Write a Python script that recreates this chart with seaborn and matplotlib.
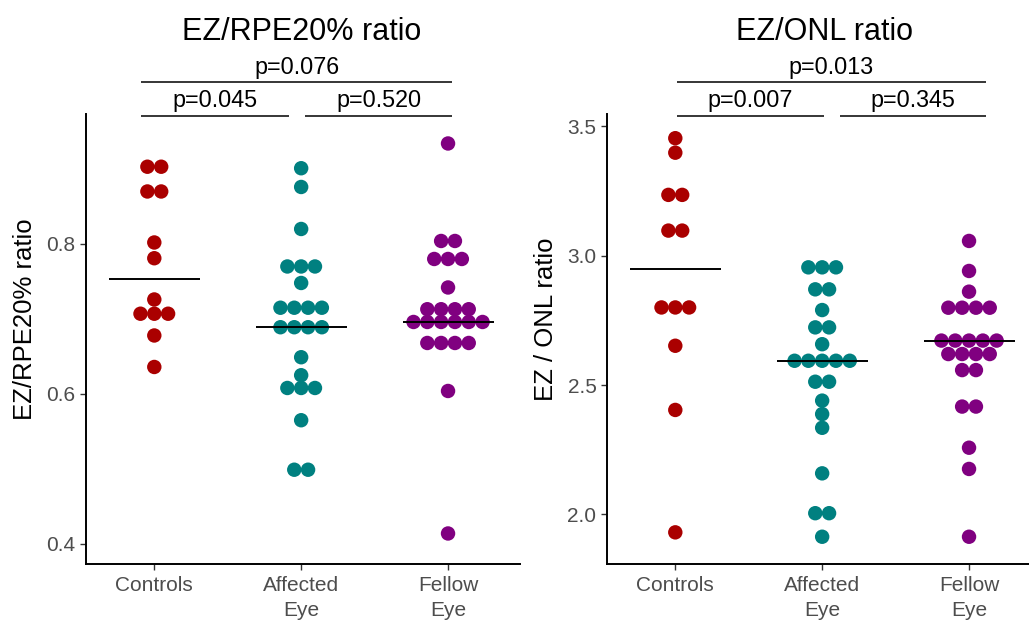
import numpy as np
import pandas as pd
import matplotlib
matplotlib.use("Agg")
import matplotlib.pyplot as plt
import matplotlib.transforms as mtransforms
import seaborn as sns

# ---- data -------------------------------------------------------------
groups = ["Controls", "Affected\nEye", "Fellow\nEye"]
group_colors = ["#AA0000", "#008080", "#800080"]

ez_rpe_controls = [0.903, 0.903, 0.870, 0.870, 0.802, 0.781, 0.726,
                   0.707, 0.707, 0.707, 0.678, 0.636]
ez_rpe_affected = [0.901, 0.876, 0.820, 0.770, 0.770, 0.770, 0.748,
                   0.715, 0.715, 0.715, 0.715, 0.689, 0.689, 0.689, 0.689,
                   0.649, 0.625, 0.608, 0.608, 0.608, 0.565, 0.499, 0.499]
ez_rpe_fellow = [0.934, 0.804, 0.804, 0.780, 0.780, 0.780, 0.742,
                 0.713, 0.713, 0.713, 0.713,
                 0.696, 0.696, 0.696, 0.696, 0.696, 0.696,
                 0.668, 0.668, 0.668, 0.668, 0.604, 0.414]

ez_onl_controls = [3.454, 3.398, 3.235, 3.235, 3.097, 3.097,
                   2.800, 2.800, 2.800, 2.652, 2.404, 1.931]
ez_onl_affected = [2.955, 2.955, 2.955, 2.870, 2.870, 2.790, 2.723, 2.723,
                   2.658, 2.594, 2.594, 2.594, 2.594, 2.594, 2.513, 2.513,
                   2.440, 2.388, 2.335, 2.159, 2.005, 2.005, 1.914]
ez_onl_fellow = [3.057, 2.941, 2.861, 2.799, 2.799, 2.799, 2.799,
                 2.672, 2.672, 2.672, 2.672, 2.672,
                 2.620, 2.620, 2.620, 2.620, 2.558, 2.558,
                 2.417, 2.417, 2.258, 2.176, 1.914]

rpe_pvalues = ["p=0.045", "p=0.520", "p=0.076"]
onl_pvalues = ["p=0.007", "p=0.345", "p=0.013"]

rpe_title = "EZ/RPE20% ratio"
rpe_ylabel = "EZ/RPE20% ratio"
onl_title = "EZ/ONL ratio"
onl_ylabel = "EZ / ONL ratio"

rpe_yticks = [0.4, 0.6, 0.8]
onl_yticks = [2.0, 2.5, 3.0, 3.5]

# ---- style ------------------------------------------------------------
sns.set_style("ticks")
plt.rcParams["font.family"] = ["Liberation Sans", "DejaVu Sans"]

W, H = 1029, 621
fig = plt.figure(figsize=(W / 100, H / 100), dpi=100)

TICK_GREY = "#4D4D4D"
DOT_STEP = 0.094      # horizontal distance between stacked dots (x units)
DOT_SIZE = 108        # marker area, pt^2


def dot_layout(values, xpos):
    """Centre equal values side by side in a row, like a centred dot plot."""
    vals = np.asarray(values, dtype=float)
    xs = np.empty_like(vals)
    for v in np.unique(vals):
        idx = np.where(vals == v)[0]
        n = len(idx)
        xs[idx] = xpos + (np.arange(n) - (n - 1) / 2) * DOT_STEP
    return xs


def make_frame(series):
    rows = []
    for i, (g, vals) in enumerate(zip(groups, series)):
        xs = dot_layout(vals, i)
        for x, v in zip(xs, vals):
            rows.append({"group": g, "x": x, "value": v})
    return pd.DataFrame(rows)


def draw_panel(ax, series, title, ylabel, yticks, ylim, pvals, spans,
               title_x):
    df = make_frame(series)
    sns.scatterplot(data=df, x="x", y="value", hue="group",
                    hue_order=groups, palette=group_colors, s=DOT_SIZE,
                    linewidth=0, alpha=1, legend=False, ax=ax, zorder=3)
    meds = [np.median(v) for v in series]
    ax.hlines(meds, np.arange(3) - 0.31, np.arange(3) + 0.31,
              colors="black", linewidth=1.4, zorder=4)

    ax.set_xlim(-0.465, 2.49)
    ax.set_ylim(*ylim)
    ax.set_xticks(range(3))
    ax.set_xticklabels(groups, linespacing=1.4)
    ax.set_yticks(yticks)
    ax.set_yticklabels([f"{t:.1f}" for t in yticks])
    ax.set_xlabel("")
    ax.set_ylabel(ylabel, fontsize=18.5, color="black")
    ax.yaxis.set_label_coords(-0.113, 0.544)

    for s in ("top", "right"):
        ax.spines[s].set_visible(False)
    for s in ("left", "bottom"):
        ax.spines[s].set_linewidth(1.4)
        ax.spines[s].set_color("black")
    ax.tick_params(axis="both", length=4.3, width=1.0, color="#333333",
                   labelsize=15, labelcolor=TICK_GREY, pad=3.3)
    ax.tick_params(axis="x", pad=4.3)
    ax.grid(False)

    # title
    ax.text(title_x, (564 - 40) / 450, title, transform=ax.transAxes,
            ha="center", va="baseline", fontsize=22, color="black")

    # comparison brackets above the panel
    trans = mtransforms.blended_transform_factory(ax.transData, ax.transAxes)
    levels = [((564 - 115.7) / 450, (564 - 107.3) / 450),
              ((564 - 115.7) / 450, (564 - 107.3) / 450),
              ((564 - 82.3) / 450, (564 - 74.0) / 450)]
    for (x0, x1), p, (ly, ty) in zip(spans, pvals, levels):
        ax.plot([x0, x1], [ly, ly], transform=trans, color="black",
                linewidth=1.1, clip_on=False, solid_capstyle="butt")
        ax.text((x0 + x1) / 2, ty, p, transform=trans, ha="center",
                va="baseline", fontsize=16.8, color="black")


ax1 = fig.add_axes([86 / W, 1 - 564 / H, 434 / W, 450 / H])
ax2 = fig.add_axes([607 / W, 1 - 564 / H, 434 / W, 450 / H])

draw_panel(ax1, [ez_rpe_controls, ez_rpe_affected, ez_rpe_fellow],
           rpe_title, rpe_ylabel, rpe_yticks, (0.3733, 0.9733), rpe_pvalues,
           [(-0.088, 0.914), (1.027, 2.029), (-0.088, 2.029)], 0.4965)
draw_panel(ax2, [ez_onl_controls, ez_onl_affected, ez_onl_fellow],
           onl_title, onl_ylabel, onl_yticks, (1.8087, 3.5475), onl_pvalues,
           [(0.009, 1.01), (1.12, 2.114), (0.009, 2.114)], 0.502)

fig.savefig("out.png", dpi=100, facecolor="white")
